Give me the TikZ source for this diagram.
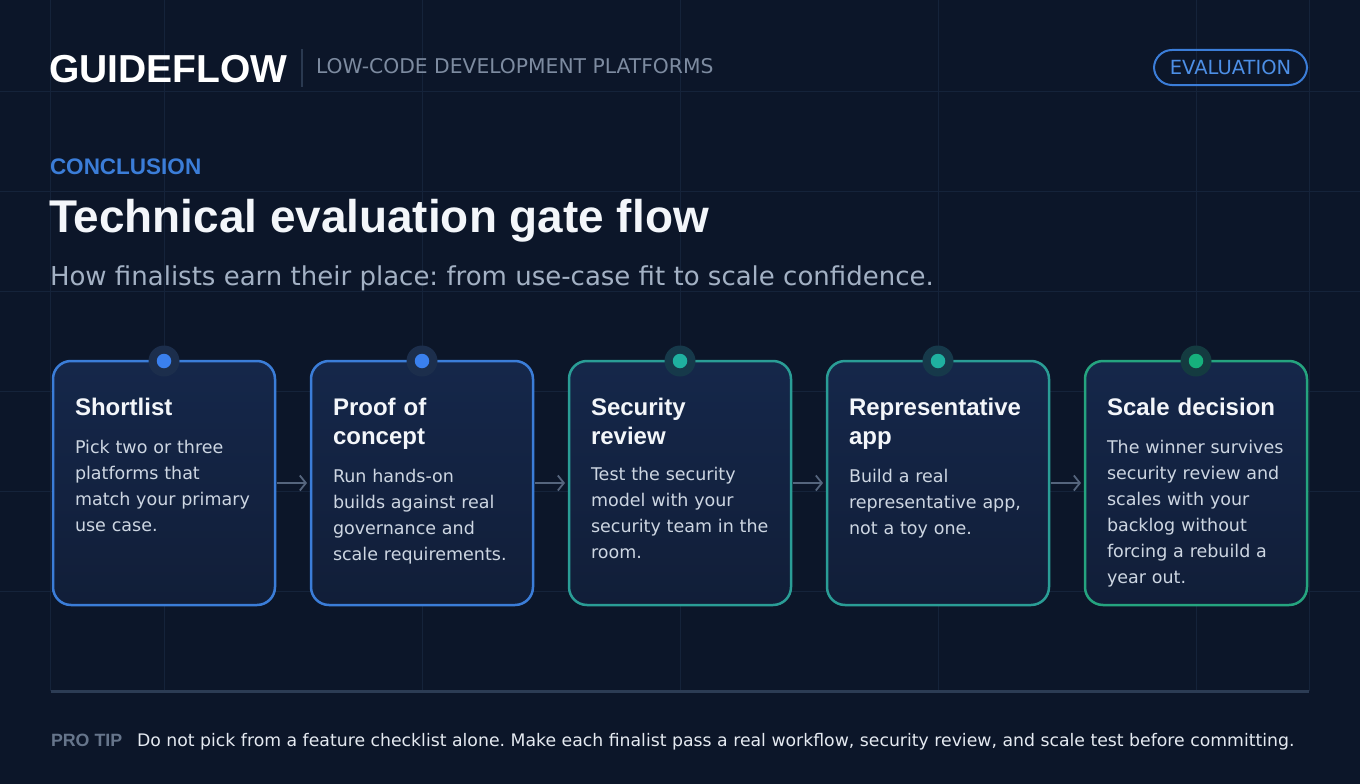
\documentclass[tikz,border=0pt]{standalone}
\usepackage{fontspec}
\setmainfont{DejaVu Sans}
\newfontfamily\hd{Liberation Sans}
\usetikzlibrary{arrows.meta}
\definecolor{bg}{HTML}{0C1629}
\definecolor{gridc}{HTML}{15233A}
\definecolor{cardtop}{HTML}{15274A}
\definecolor{cardbot}{HTML}{111E38}
\definecolor{bluec}{HTML}{3B7DD8}
\definecolor{bluedot}{HTML}{3A80EE}
\definecolor{bluehalo}{HTML}{1C2E4C}
\definecolor{tealc}{HTML}{2A9D96}
\definecolor{tealdot}{HTML}{1FB0A0}
\definecolor{tealhalo}{HTML}{16394A}
\definecolor{greenc}{HTML}{25A47F}
\definecolor{greendot}{HTML}{16B07C}
\definecolor{greenhalo}{HTML}{143B40}
\definecolor{titlec}{HTML}{F3F6FA}
\definecolor{bodyc}{HTML}{CDD6E2}
\definecolor{subc}{HTML}{A3B1C4}
\definecolor{headgrey}{HTML}{7D8BA0}
\definecolor{sepc}{HTML}{2A3950}
\definecolor{arrowc}{HTML}{55657D}
\definecolor{divc}{HTML}{2C3C54}
\definecolor{tiplab}{HTML}{66758B}
\definecolor{tiptext}{HTML}{E5EAF1}
\definecolor{pilltext}{HTML}{4D8FE6}
\frenchspacing
\begin{document}
\frenchspacing
\begin{tikzpicture}[x=1pt,y=-1pt,
  every node/.style={inner sep=0pt, outer sep=0pt},
  gridline/.style={draw=gridc, line width=1pt},
  card/.style={draw=#1, line width=2.5pt, rounded corners=18pt, minimum width=222pt, minimum height=244pt, top color=cardtop, bottom color=cardbot},
  halo/.style={circle, minimum size=31pt, fill=#1},
  dotc/.style={circle, minimum size=14.5pt, fill=#1},
  ttl/.style={anchor=base west, text width=205pt, align=left, font=\hd\bfseries\fontsize{24}{29}\selectfont, text=titlec},
  bdy/.style={anchor=base west, text width=210pt, align=left, font=\fontsize{17.5}{26}\selectfont, text=bodyc},
  flowarrow/.style={draw=arrowc, line width=1.8pt, -{Straight Barb[length=6pt,width=15pt,line width=1.8pt]}},
]
\useasboundingbox (0,0) rectangle (1360,784);
\fill[bg] (0,0) rectangle (1360,784);
% grid
\foreach \x in {50,164,422,680,938,1196,1309} \draw[gridline] (\x,0) -- (\x,691);
\foreach \y in {91,191,291,391,491,591} \draw[gridline] (0,\y) -- (1360,\y);

% header
\node[anchor=base west, font=\hd\bfseries\fontsize{39}{39}\selectfont, text=white] (brand) at (49,82) {GUIDEFLOW};
\coordinate (sepTop) at (302,49);
\coordinate (sepBot) at (302,87);
\draw[draw=sepc, line width=1.2pt] (sepTop) -- (sepBot);
\node[anchor=base west, font=\fontsize{20.3}{21}\selectfont, text=headgrey] (sub) at (316,74) {LOW-CODE DEVELOPMENT PLATFORMS};
\node[draw=bluec, line width=2pt, rounded corners=18pt, minimum width=153pt, minimum height=35pt, font=\fontsize{19.5}{20}\selectfont, text=pilltext] (pill) at (1230.5,67.5) {EVALUATION};

% headings
\node[anchor=base west, font=\hd\bfseries\fontsize{22.5}{23}\selectfont, text=bluec] (kicker) at (50,174) {CONCLUSION};
\node[anchor=base west, font=\hd\bfseries\fontsize{45.9}{46}\selectfont, text=titlec] (title) at (49,232) {Technical evaluation gate flow};
\node[anchor=base west, font=\fontsize{26}{28}\selectfont, text=subc] (subtitle) at (50,285) {How finalists earn their place: from use-case fit to scale confidence.};

% cards
\node[card=bluec]  (c1) at (164,483) {};
\node[card=bluec]  (c2) at (422,483) {};
\node[card=tealc]  (c3) at (680,483) {};
\node[card=tealc]  (c4) at (938,483) {};
\node[card=greenc] (c5) at (1196,483) {};

% dots
\node[halo=bluehalo]  (h1) at (c1.north) {};
\node[dotc=bluedot]   (d1) at (c1.north) {};
\node[halo=bluehalo]  (h2) at (c2.north) {};
\node[dotc=bluedot]   (d2) at (c2.north) {};
\node[halo=tealhalo]  (h3) at (c3.north) {};
\node[dotc=tealdot]   (d3) at (c3.north) {};
\node[halo=tealhalo]  (h4) at (c4.north) {};
\node[dotc=tealdot]   (d4) at (c4.north) {};
\node[halo=greenhalo] (h5) at (c5.north) {};
\node[dotc=greendot]  (d5) at (c5.north) {};

% arrows
\draw[flowarrow] ([xshift=2pt]c1.east) -- ([xshift=-4pt]c2.west);
\draw[flowarrow] ([xshift=2pt]c2.east) -- ([xshift=-4pt]c3.west);
\draw[flowarrow] ([xshift=2pt]c3.east) -- ([xshift=-4pt]c4.west);
\draw[flowarrow] ([xshift=2pt]c4.east) -- ([xshift=-4pt]c5.west);

% card texts
\node[ttl] (t1) at (75,415) {Shortlist};
\node[bdy] (b1) at (75,453) {Pick two or three\\platforms that\\match your primary\\use case.};
\node[ttl] (t2) at (333,415) {Proof of\\concept};
\node[bdy] (b2) at (333,482) {Run hands-on\\builds against real\\governance and\\scale requirements.};
\node[ttl] (t3) at (591,415) {Security\\review};
\node[bdy] (b3) at (591,480) {Test the security\\model with your\\security team in the\\room.};
\node[ttl] (t4) at (849,415) {Representative\\app};
\node[bdy] (b4) at (849,482) {Build a real\\representative app,\\not a toy one.};
\node[ttl] (t5) at (1107,415) {Scale decision};
\node[bdy] (b5) at (1107,453) {The winner survives\\security review and\\scales with your\\backlog without\\forcing a rebuild a\\year out.};

% divider and tip
\coordinate (divL) at (51,691);
\coordinate (divR) at (1309,691);
\draw[draw=divc, line width=3pt] (divL) -- (divR);
\node[anchor=base west, font=\hd\bfseries\fontsize{17.8}{18}\selectfont, text=tiplab] (tiplabel) at (51,746) {PRO TIP};
\node[anchor=base west, font=\fontsize{17.28}{18}\selectfont, text=tiptext] (tip) at (137,746) {Do not pick from a feature checklist alone. Make each finalist pass a real workflow, security review, and scale test before committing.};
\end{tikzpicture}
\end{document}
